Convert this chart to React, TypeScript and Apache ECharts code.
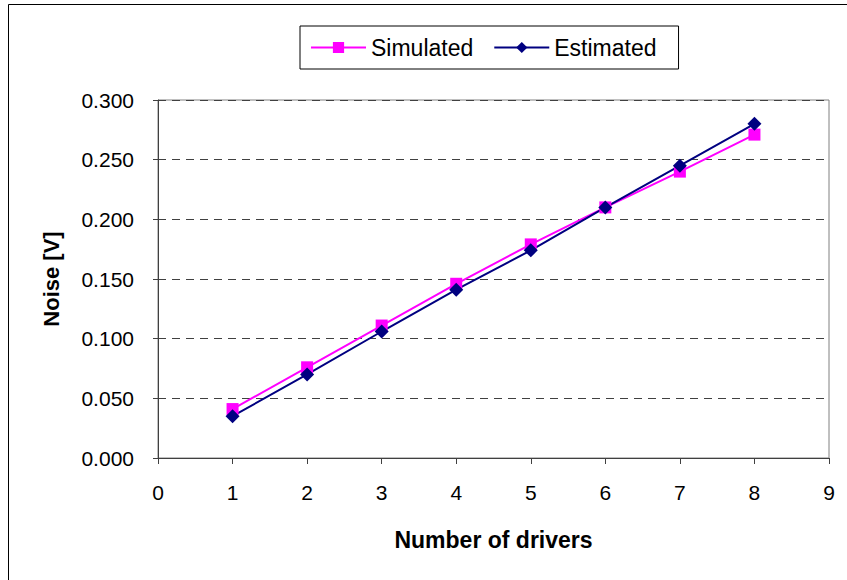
import React, { useEffect, useRef } from "react";
import * as echarts from "echarts";

const drivers = [1, 2, 3, 4, 5, 6, 7, 8];
const simulated = [0.041, 0.076, 0.111, 0.146, 0.179, 0.21, 0.24, 0.271];
const estimated = [0.035, 0.07, 0.106, 0.141, 0.174, 0.21, 0.245, 0.28];
const seriesNames = ["Simulated", "Estimated"];

export default function App() {
  const ref = useRef<HTMLDivElement>(null);
  useEffect(() => {
    const chart = echarts.init(ref.current!, null, { renderer: "svg" });
    const font = "Liberation Sans, Arial, sans-serif";
    chart.setOption({
      animation: false,
      backgroundColor: "#fff",
      textStyle: { fontFamily: font },
      graphic: [
        {
          type: "rect",
          shape: { x: 8.5, y: 4.5, width: 850, height: 600 },
          style: { fill: "none", stroke: "#000", lineWidth: 1 },
          silent: true,
        },
      ],
      legend: {
        data: seriesNames,
        left: 300,
        top: 26,
        padding: [10, 22, 10, 10],
        itemGap: 20,
        itemWidth: 55,
        itemHeight: 14,
        borderColor: "#000",
        borderWidth: 1,
        textStyle: { fontSize: 23, color: "#000", fontFamily: font },
      },
      grid: { left: 158, right: 18, top: 100, bottom: 122, containLabel: false, show: true, borderColor: "#808080", borderWidth: 1 },
      xAxis: {
        type: "value",
        min: 0,
        max: 9,
        interval: 1,
        name: "Number of drivers",
        nameLocation: "middle",
        nameGap: 70,
        nameTextStyle: { fontSize: 23, fontWeight: "bold", color: "#000", fontFamily: font },
        axisLine: { show: true, lineStyle: { color: "#404040", width: 1 } },
        axisTick: { show: true, inside: false, length: 6, lineStyle: { color: "#404040" } },
        axisLabel: { fontSize: 21, color: "#000", margin: 24, fontFamily: font },
        splitLine: { show: false },
      },
      yAxis: {
        type: "value",
        min: 0,
        max: 0.3,
        interval: 0.05,
        name: "Noise [V]",
        nameLocation: "middle",
        nameGap: 96,
        nameTextStyle: { fontSize: 22, fontWeight: "bold", color: "#000", fontFamily: font },
        axisLine: { show: true, lineStyle: { color: "#404040", width: 1 } },
        axisTick: { show: true, inside: false, length: 5, lineStyle: { color: "#404040" } },
        axisLabel: { fontSize: 21, color: "#000", margin: 24, fontFamily: font, formatter: (v: number) => v.toFixed(3) },
        splitLine: { show: true, lineStyle: { color: "#404040", type: [8, 6], width: 1 } },
      },
      series: [
        {
          name: seriesNames[0],
          type: "line",
          data: drivers.map((d, i) => [d, simulated[i]]),
          symbol: "rect",
          symbolSize: 12,
          itemStyle: { color: "#FF00FF" },
          lineStyle: { color: "#FF00FF", width: 2 },
        },
        {
          name: seriesNames[1],
          type: "line",
          data: drivers.map((d, i) => [d, estimated[i]]),
          symbol: "diamond",
          symbolSize: 14,
          itemStyle: { color: "#000080" },
          lineStyle: { color: "#000080", width: 2 },
        },
      ],
    });
    return () => chart.dispose();
  }, []);
  return <div ref={ref} style={{ position: "absolute", left: 0, top: 0, width: 847, height: 580 }} />;
}
